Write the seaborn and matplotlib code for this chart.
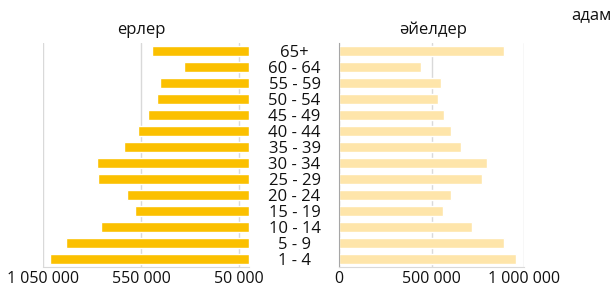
import numpy as np
import pandas as pd
import matplotlib
matplotlib.use("Agg")
import matplotlib.pyplot as plt
from matplotlib.ticker import FixedLocator
import seaborn as sns

# age groups, top to bottom
ages = ["65+", "60 - 64", "55 - 59", "50 - 54", "45 - 49", "40 - 44", "35 - 39",
        "30 - 34", "25 - 29", "20 - 24", "15 - 19", "10 - 14", "5 - 9", "1 - 4"]
men = [494000, 330000, 454000, 471000, 516000, 565000, 638000,
       777000, 771000, 623000, 580000, 755000, 936000, 1016000]
women = [888000, 440000, 550000, 532000, 565000, 604000, 658000,
         798000, 771000, 604000, 561000, 717000, 888000, 955000]

men_ticks = [1050000, 550000, 50000]
men_ticklabels = ["1 050 000", "550 000", "50 000"]
women_ticks = [0, 500000, 1000000]
women_ticklabels = ["0", "500 000", "1 000 000"]

df = pd.DataFrame({"age": ages, "men": men, "women": women})

sns.set_style("white")
plt.rcParams["font.family"] = ["Open Sans", "DejaVu Sans"]

W, H = 613, 292
fig = plt.figure(figsize=(W / 100, H / 100), dpi=100)
ax1 = fig.add_axes([43.3 / W, 25 / H, 205.7 / W, 224 / H])
ax2 = fig.add_axes([339 / W, 25 / H, 185.3 / W, 224 / H])

grid_c = "#D9D9D9"
spine_c = "#A6A6A6"
txt_c = "#111111"

sns.barplot(data=df, x="men", y="age", order=ages, color="#FBC000",
            saturation=1, width=0.65, orient="h", ax=ax1)
sns.barplot(data=df, x="women", y="age", order=ages, color="#FEE5AA",
            saturation=1, width=0.65, orient="h", ax=ax2)

# left panel: reversed axis
ax1.set_xlim(1050000, 0)
ax1.set_xticks(men_ticks)
ax1.set_xticklabels(men_ticklabels, fontsize=11.5, color=txt_c)
ax1.set_yticks([])
ax1.grid(axis="x", color=grid_c, lw=1)
ax1.set_axisbelow(True)
for s in ["top", "right", "left"]:
    ax1.spines[s].set_visible(False)
ax1.spines["bottom"].set_color(grid_c)
ax1.tick_params(axis="x", length=0, pad=3)

# right panel
ax2.set_xlim(0, 1000000)
ax2.set_xticks(women_ticks)
ax2.set_xticklabels(women_ticklabels, fontsize=11.5, color=txt_c)
ax2.grid(axis="x", color=grid_c, lw=1)
ax2.set_axisbelow(True)
for s in ["top", "right"]:
    ax2.spines[s].set_visible(False)
ax2.spines["bottom"].set_color(grid_c)
ax2.spines["left"].set_color(spine_c)
ax2.tick_params(axis="x", length=0, pad=3)
ax2.yaxis.set_minor_locator(FixedLocator(np.arange(-0.5, len(ages), 1)))
ax2.tick_params(axis="y", which="minor", length=4, color=spine_c, width=1)
ax2.tick_params(axis="y", which="major", length=0, pad=32)
for lab in ax2.get_yticklabels():
    lab.set_ha("center")
    lab.set_fontsize(12)
    lab.set_color(txt_c)

for ax in (ax1, ax2):
    ax.set_xlabel("")
    ax.set_ylabel("")

fig.text(141 / W, 1 - 30 / H, "ерлер", ha="center", va="center", fontsize=12, color=txt_c)
fig.text(433 / W, 1 - 30 / H, "әйелдер", ha="center", va="center", fontsize=12, color=txt_c)
fig.text(612 / W, 1 - 15 / H, "адам", ha="right", va="center", fontsize=12, color=txt_c)

fig.savefig("out.png", dpi=100)
